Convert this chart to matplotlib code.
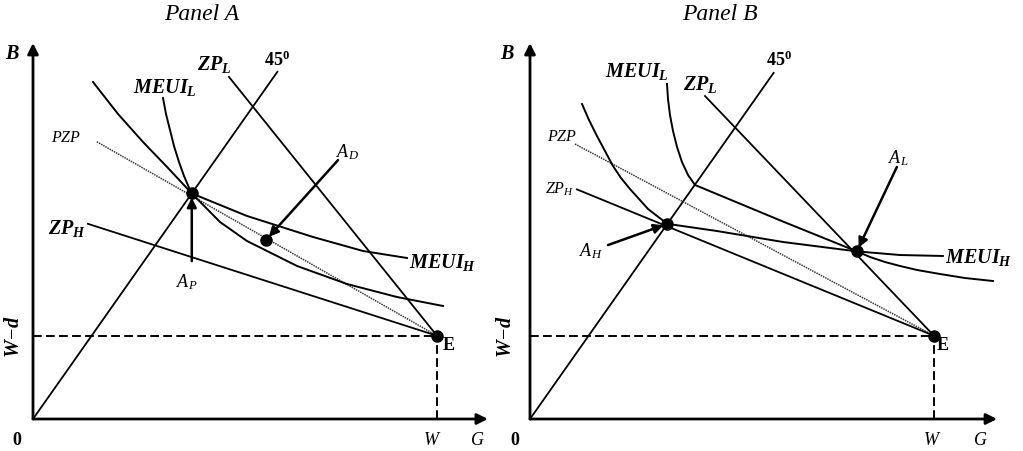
import matplotlib
matplotlib.use('Agg')
import matplotlib.pyplot as plt

plt.rcParams.update({
    'font.family': ['Liberation Serif', 'DejaVu Serif'],
    'mathtext.fontset': 'custom',
    'mathtext.rm': 'Liberation Serif',
    'mathtext.it': 'Liberation Serif:italic:bold',
    'mathtext.bf': 'Liberation Serif:bold',
    'mathtext.sf': 'Liberation Serif:italic',
})

# ---------------- data ----------------
W = 10.0
W_MINUS_D = 1.45

# Panel A
a_line45_end = 6.05
a_AP = (3.93, 3.93)
a_AD = (5.77, 3.12)
a_zpl_start = (4.85, 5.96)
a_pzp_start = (1.58, 4.83)
a_zph_start = (1.36, 3.40)
a_meuih_x = [1.485, 2.104, 2.723, 3.342, 3.93, 5.297, 6.931, 8.168, 9.257]
a_meuih_y = [5.871, 5.314, 4.826, 4.373, 3.93, 3.537, 3.171, 2.927, 2.805]
a_meuil_x = [3.218, 3.292, 3.391, 3.490, 3.614, 3.738, 3.886, 3.93,
             4.629, 5.297, 6.535, 7.772, 9.01, 10.149]
a_meuil_y = [5.592, 5.314, 5.035, 4.756, 4.477, 4.233, 3.990, 3.93,
             3.432, 3.101, 2.666, 2.352, 2.125, 1.969]
a_AD_arrow_tail = (7.55, 4.51)
a_AP_arrow_tail = (3.93, 2.75)

# Panel B
b_line45_end = 6.03
b_AH = (3.4, 3.4)
b_AL = (8.09, 2.92)
b_zpl_start = (4.332, 5.627)
b_pzp_start = (1.114, 4.791)
b_zph_start = (1.163, 4.0)
b_meuil_x = [3.391, 3.416, 3.465, 3.540, 3.639, 3.762, 3.911, 4.084,
             6.262, 8.09, 8.416, 8.787, 9.158, 9.579, 10.149, 10.767, 11.46]
b_meuil_y = [5.836, 5.575, 5.296, 5.017, 4.739, 4.477, 4.251, 4.077,
             3.44, 2.92, 2.822, 2.735, 2.666, 2.596, 2.526, 2.456, 2.404]
b_meuih_x = [1.287, 1.460, 1.658, 1.856, 2.054, 2.252, 2.475, 2.698, 2.921, 3.144, 3.4,
             4.629, 6.262, 8.09, 9.158, 10.22]
b_meuih_y = [5.488, 5.209, 4.930, 4.669, 4.408, 4.199, 4.007, 3.833, 3.659, 3.537, 3.4,
             3.275, 3.084, 2.92, 2.857, 2.84]
b_AL_arrow_tail = (9.08, 4.39)
b_AH_arrow_tail = (1.93, 3.03)

# ---------------- layout ----------------
FIG_W, FIG_H = 1023, 452
PX_X, PX_Y = 40.4, 57.4
fig = plt.figure(figsize=(FIG_W / 100, FIG_H / 100), dpi=100)


def make_ax(left_px, origin_px, origin_py=420):
    width = FIG_W / 2
    ax = fig.add_axes([left_px / FIG_W, 0, width / FIG_W, 1])
    ax.set_xlim(-(origin_px - left_px) / PX_X, (left_px + width - origin_px) / PX_X)
    ax.set_ylim(-(FIG_H - origin_py) / PX_Y, origin_py / PX_Y)
    ax.set_axis_off()
    return ax


def arrow(ax, tail, head, lw=1.8, ms=14, shrinkB=2):
    ax.annotate('', xy=head, xytext=tail,
                arrowprops=dict(arrowstyle='-|>', lw=lw, color='k',
                                mutation_scale=ms, shrinkA=0, shrinkB=shrinkB))


def frame(ax, xtip, ytip):
    arrow(ax, (0, 0), (xtip, 0), lw=2, ms=16, shrinkB=0)
    arrow(ax, (0, 0), (0, ytip), lw=2, ms=16, shrinkB=0)
    ax.plot([0, W], [W_MINUS_D, W_MINUS_D], color='k', lw=1.4, ls=(0, (4.5, 2.2)))
    ax.plot([W, W], [0, W_MINUS_D], color='k', lw=1.4, ls=(0, (4.5, 2.2)))
    ax.plot([W], [W_MINUS_D], 'o', color='k', ms=8)


def line_to_E(ax, start, **kw):
    ax.plot([start[0], W], [start[1], W_MINUS_D], color=kw.pop('color', 'k'),
            lw=kw.pop('lw', 1.3), **kw)


BIG = 14.5
MID = 13
SMALL = 11.5
TITLE = 17
PZP_STYLE = dict(color='#3a3a3a', lw=1.1, ls=(0, (1, 0.6)))

# ---------------- Panel A ----------------
axA = make_ax(0, 33)
frame(axA, 11.26, 6.55)
axA.plot([0, a_line45_end], [0, a_line45_end], color='k', lw=1.3)
line_to_E(axA, a_zpl_start)
line_to_E(axA, a_pzp_start, **PZP_STYLE)
line_to_E(axA, a_zph_start)
axA.plot(a_meuih_x, a_meuih_y, color='k', lw=1.4, solid_joinstyle='round')
axA.plot(a_meuil_x, a_meuil_y, color='k', lw=1.4, solid_joinstyle='round')
axA.plot(*a_AP, 'o', color='k', ms=8)
axA.plot(*a_AD, 'o', color='k', ms=8)
arrow(axA, a_AD_arrow_tail, a_AD, shrinkB=3)
arrow(axA, a_AP_arrow_tail, a_AP, shrinkB=3)

axA.text(4.18, 7.06, 'Panel A', fontsize=TITLE, style='italic', ha='center', va='center')
axA.text(-0.52, 6.36, r'$B$', fontsize=BIG, ha='center', va='center')
axA.text(4.48, 6.2, r'$ZP_L$', fontsize=BIG, ha='center', va='center')
axA.text(6.04, 6.27, r'$\mathbf{45^0}$', fontsize=MID, ha='center', va='center')
axA.text(3.27, 5.8, r'$MEUI_L$', fontsize=BIG, ha='center', va='center')
axA.text(0.82, 4.91, r'$\mathsf{PZP}$', fontsize=SMALL, ha='center', va='center')
axA.text(7.78, 4.66, r'$\mathsf{A_D}$', fontsize=MID, ha='center', va='center')
axA.text(0.84, 3.33, r'$ZP_H$', fontsize=BIG, ha='center', va='center')
axA.text(9.3, 2.74, r'$MEUI_H$', fontsize=BIG, ha='left', va='center')
axA.text(3.81, 2.40, r'$\mathsf{A_P}$', fontsize=MID, ha='center', va='center')
axA.text(-0.45, 1.45, r'$W\!-\!d$', fontsize=BIG, ha='center', va='center', rotation=90)
axA.text(10.3, 1.30, 'E', fontsize=MID, fontweight='bold', ha='center', va='center')
axA.text(-0.4, -0.35, '0', fontsize=MID, fontweight='bold', ha='center', va='center')
axA.text(9.88, -0.35, r'$\mathsf{W}$', fontsize=MID, ha='center', va='center')
axA.text(11.0, -0.35, r'$\mathsf{G}$', fontsize=MID, ha='center', va='center')

# ---------------- Panel B ----------------
axB = make_ax(FIG_W / 2, 530)
frame(axB, 11.56, 6.55)
axB.plot([0, b_line45_end], [0, b_line45_end], color='k', lw=1.3)
line_to_E(axB, b_zpl_start)
line_to_E(axB, b_pzp_start, **PZP_STYLE)
line_to_E(axB, b_zph_start)
axB.plot(b_meuil_x, b_meuil_y, color='k', lw=1.4, solid_joinstyle='round')
axB.plot(b_meuih_x, b_meuih_y, color='k', lw=1.4, solid_joinstyle='round')
axB.plot(*b_AH, 'o', color='k', ms=8)
axB.plot(*b_AL, 'o', color='k', ms=8)
arrow(axB, b_AL_arrow_tail, b_AL, shrinkB=3)
arrow(axB, b_AH_arrow_tail, b_AH, shrinkB=3)

axB.text(4.70, 7.06, 'Panel B', fontsize=TITLE, style='italic', ha='center', va='center')
axB.text(-0.57, 6.36, r'$B$', fontsize=BIG, ha='center', va='center')
axB.text(2.65, 6.08, r'$MEUI_L$', fontsize=BIG, ha='center', va='center')
axB.text(4.21, 5.85, r'$ZP_L$', fontsize=BIG, ha='center', va='center')
axB.text(6.16, 6.27, r'$\mathbf{45^0}$', fontsize=MID, ha='center', va='center')
axB.text(0.79, 4.93, r'$\mathsf{PZP}$', fontsize=SMALL, ha='center', va='center')
axB.text(0.74, 4.02, r'$\mathsf{ZP_H}$', fontsize=SMALL, ha='center', va='center')
axB.text(9.11, 4.56, r'$\mathsf{A_L}$', fontsize=MID, ha='center', va='center')
axB.text(1.51, 2.95, r'$\mathsf{A_H}$', fontsize=MID, ha='center', va='center')
axB.text(10.28, 2.83, r'$MEUI_H$', fontsize=BIG, ha='left', va='center')
axB.text(-0.57, 1.45, r'$W\!-\!d$', fontsize=BIG, ha='center', va='center', rotation=90)
axB.text(10.22, 1.30, 'E', fontsize=MID, fontweight='bold', ha='center', va='center')
axB.text(-0.37, -0.35, '0', fontsize=MID, fontweight='bold', ha='center', va='center')
axB.text(9.95, -0.35, r'$\mathsf{W}$', fontsize=MID, ha='center', va='center')
axB.text(11.14, -0.35, r'$\mathsf{G}$', fontsize=MID, ha='center', va='center')

fig.savefig('out.png', dpi=100)
